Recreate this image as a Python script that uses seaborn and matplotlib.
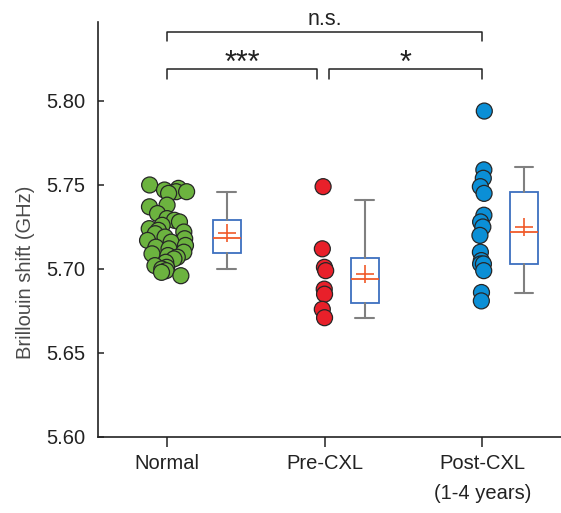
import numpy as np
import pandas as pd
import matplotlib
matplotlib.use("Agg")
import matplotlib.pyplot as plt
import seaborn as sns

# ---- data -------------------------------------------------------------
groups = ["Normal", "Pre-CXL", "Post-CXL"]
tick_labels = ["Normal", "Pre-CXL", "Post-CXL\n(1-4 years)"]

normal_ghz = [5.750, 5.748, 5.747, 5.746, 5.746, 5.745,
              5.738, 5.737, 5.733,
              5.730, 5.729, 5.728, 5.726, 5.724, 5.723, 5.722, 5.721,
              5.719, 5.718, 5.717, 5.716, 5.714, 5.713, 5.712,
              5.710, 5.709, 5.708, 5.707, 5.706, 5.704,
              5.702, 5.701, 5.700, 5.699, 5.698, 5.696]
pre_ghz = [5.749, 5.712, 5.701, 5.699, 5.688, 5.685, 5.676, 5.671]
post_ghz = [5.794, 5.759, 5.754, 5.749, 5.745, 5.732, 5.728, 5.725,
            5.720, 5.710, 5.705, 5.703, 5.703, 5.699, 5.686, 5.681]

# box summaries (whisker ends, quartiles, median, mean)
box_whislo = [5.700, 5.671, 5.686]
box_q1 = [5.7097, 5.6796, 5.7028]
box_med = [5.7182, 5.6940, 5.7222]
box_q3 = [5.7292, 5.7064, 5.7460]
box_whishi = [5.7458, 5.7410, 5.7609]
box_mean = [5.7212, 5.6968, 5.7248]

# pairwise comparisons: (group a, group b, label)
comparisons = [("Normal", "Pre-CXL", "***"),
               ("Pre-CXL", "Post-CXL", "*"),
               ("Normal", "Post-CXL", "n.s.")]

colors = {"Normal": "#6cb33f", "Pre-CXL": "#e8202a", "Post-CXL": "#0b8fd6"}

# ---- figure -----------------------------------------------------------
sns.set_theme(style="ticks")
plt.rcParams["font.family"] = ["Liberation Sans", "DejaVu Sans"]

W, H = 561, 513
fig = plt.figure(figsize=(W / 100, H / 100), dpi=100)
ax = fig.add_axes([98 / W, 76 / H, 1 - 98 / W, (437 - 22) / H])

df = pd.DataFrame({
    "group": (["Normal"] * len(normal_ghz) + ["Pre-CXL"] * len(pre_ghz)
              + ["Post-CXL"] * len(post_ghz)),
    "ghz": normal_ghz + pre_ghz + post_ghz,
})

point_kw = dict(x="group", y="ghz", hue="group", order=groups, palette=colors,
                size=11.5, edgecolor="#262626", linewidth=0.9, legend=False,
                ax=ax, zorder=3)
np.random.seed(7)
sns.stripplot(data=df[df.group == "Normal"], jitter=0.13, **point_kw)
np.random.seed(11)
sns.stripplot(data=df[df.group != "Normal"], jitter=0.015, **point_kw)

stats = [dict(whislo=lo, q1=q1, med=md, q3=q3, whishi=hi, mean=mn, fliers=[])
         for lo, q1, md, q3, hi, mn in zip(box_whislo, box_q1, box_med,
                                          box_q3, box_whishi, box_mean)]
ax.bxp(stats, positions=[0.38, 1.255, 2.265], widths=0.175,
       capwidths=0.12, showmeans=True, showfliers=False, patch_artist=True,
       manage_ticks=False,
       boxprops=dict(facecolor="white", edgecolor="#3d6fbf", linewidth=1.3),
       medianprops=dict(color="#f05a2a", linewidth=1.3),
       meanprops=dict(marker="+", markeredgecolor="#f05a2a",
                      markersize=13, markeredgewidth=1.2),
       whiskerprops=dict(color="#808080", linewidth=1.5),
       capprops=dict(color="#808080", linewidth=1.5))

# ---- axes -------------------------------------------------------------
ax.set_xlim(-0.438, 2.50)
ax.set_ylim(5.60, 5.847)
ax.set_xticks(range(len(groups)))
ax.set_xticklabels(tick_labels, linespacing=1.75)
yt = [5.60, 5.65, 5.70, 5.75, 5.80]
ax.set_yticks(yt)
ax.set_yticklabels([f"{v:.2f}" for v in yt])
ax.set_xlabel("")
ax.set_ylabel("Brillouin shift (GHz)", fontsize=14.5, color="#4a4a4a")
ax.yaxis.set_label_coords(-0.135, 0.398)

for s in ("top", "right"):
    ax.spines[s].set_visible(False)
for s in ("left", "bottom"):
    ax.spines[s].set_color("#222222")
    ax.spines[s].set_linewidth(1.2)
ax.tick_params(axis="y", direction="in", length=4, width=1.1,
               colors="#222222", labelsize=14.5, pad=9)
ax.tick_params(axis="x", direction="out", length=7, width=1.1,
               colors="#222222", labelsize=14.5, pad=5)

# ---- significance brackets ---------------------------------------------
pos = {g: i for i, g in enumerate(groups)}
levels = {"***": (5.8189, 5.8131, 0.0, -0.05, 5.8171, 22),
          "*": (5.8189, 5.8131, 0.03, 0.0, 5.8171, 22),
          "n.s.": (5.8413, 5.8357, 0.0, 0.0, 5.8455, 15.5)}
for a, b, lab in comparisons:
    top, foot, da, db, ty, fs = levels[lab]
    xa, xb = pos[a] + da, pos[b] + db
    ax.plot([xa, xa, xb, xb], [foot, top, top, foot], color="#222222",
            linewidth=1.1, clip_on=False)
    ax.text((xa + xb) / 2, ty, lab, ha="center", va="baseline",
            fontsize=fs, color="#222222", clip_on=False)

fig.savefig("out.png", dpi=100)
